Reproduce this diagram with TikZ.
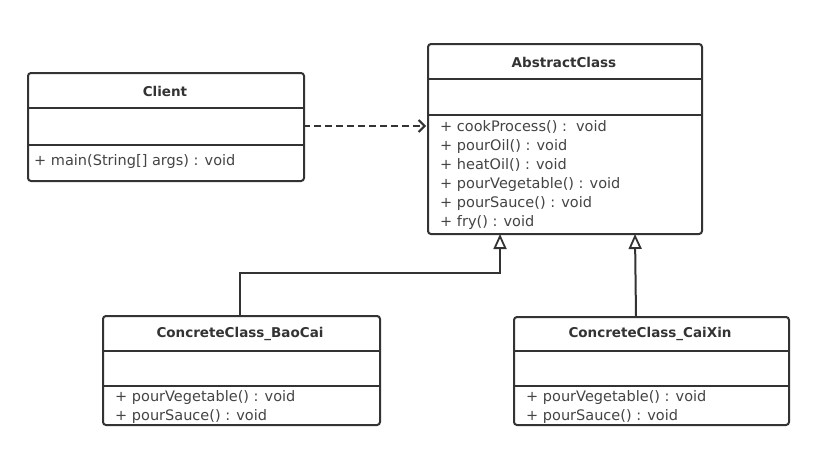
\documentclass[tikz,border=0pt]{standalone}
\usepackage{fontspec}
\setmainfont{DejaVu Sans}
\usetikzlibrary{arrows.meta}
\definecolor{ln}{HTML}{333333}
\definecolor{tx}{HTML}{333333}
\definecolor{mt}{HTML}{444444}
\tikzset{
  classbox/.style={draw=ln, line width=2pt, rounded corners=3pt, fill=white, anchor=north west, inner sep=0pt},
  divline/.style={draw=ln, line width=2pt},
  title/.style={font=\fontsize{13.5}{16}\selectfont\bfseries, text=tx, inner sep=0pt},
  meth/.style={font=\fontsize{14.5}{19}\selectfont, text=mt, anchor=north west, align=left, inner sep=0pt},
  dep/.style={draw=ln, line width=2pt, dash pattern=on 7pt off 4pt, -{Straight Barb[length=6pt,width=12pt,line width=2pt]}},
  inh/.style={draw=ln, line width=2pt, -{Triangle[open,length=15pt,width=13pt,line width=1.8pt,fill=white]}}
}
\begin{document}
\begin{tikzpicture}[x=1pt,y=-1pt]
\useasboundingbox (0,0) rectangle (836,461);
% Client
\node[classbox, minimum width=276pt, minimum height=108pt] (client) at (27,72) {};
\draw[divline] (27,108) -- (303,108);
\draw[divline] (27,145) -- (303,145);
\node[title] (clientT) at (165,91) {Client};
\node[meth] (clientM) at (34,154) {+ main(String[] args) : void};
% AbstractClass
\node[classbox, minimum width=274pt, minimum height=190pt] (abs) at (427,43) {};
\draw[divline] (427,79) -- (701,79);
\draw[divline] (427,115) -- (701,115);
\node[title] (absT) at (564,62) {AbstractClass};
\node[meth] (absM) at (440,120) {+ cookProcess() :\ \ void\\+ pourOil() : void\\+ heatOil() : void\\+ pourVegetable() : void\\+ pourSauce() : void\\+ fry() : void};
% BaoCai
\node[classbox, minimum width=277pt, minimum height=109pt] (bao) at (102,315) {};
\draw[divline] (102,351) -- (379,351);
\draw[divline] (102,386) -- (379,386);
\node[title] (baoT) at (240,334) {ConcreteClass\_BaoCai};
\node[meth] (baoM) at (115,390) {+ pourVegetable() : void\\+ pourSauce() : void};
% CaiXin
\node[classbox, minimum width=275pt, minimum height=108pt] (cai) at (513,316) {};
\draw[divline] (513,351) -- (788,351);
\draw[divline] (513,386) -- (788,386);
\node[title] (caiT) at (650,334) {ConcreteClass\_CaiXin};
\node[meth] (caiM) at (526,390) {+ pourVegetable() : void\\+ pourSauce() : void};
% connectors
\coordinate (depS) at (303,126);
\coordinate (depE) at (426,126);
\draw[dep] (depS) -- (depE);
\coordinate (baoTop) at (240,315);
\coordinate (absB1) at (500,234);
\draw[inh] (baoTop) -- (240,273) -| (absB1);
\coordinate (caiTop) at (636,316);
\coordinate (absB2) at (635,234);
\draw[inh] (caiTop) -- (absB2);
\end{tikzpicture}
\end{document}
